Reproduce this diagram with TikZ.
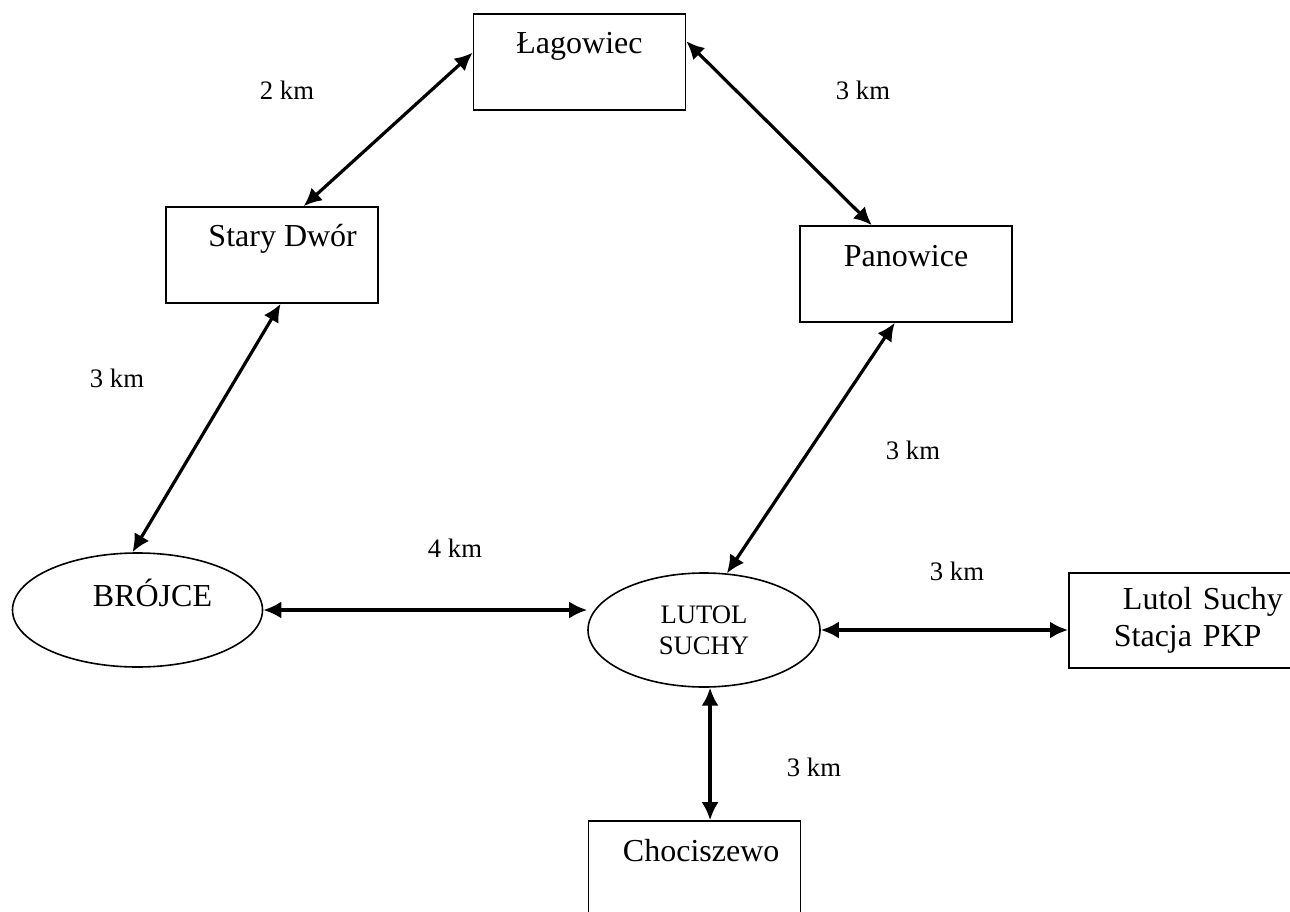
\documentclass[tikz,border=0pt]{standalone}
\usepackage{fontspec}
\setmainfont{Liberation Serif}
\usetikzlibrary{arrows.meta,shapes.geometric}

\begin{document}
\begin{tikzpicture}[x=0.375pt, y=-0.375pt,
        >={Latex[length=6.75pt,width=6.4pt]},
        place/.style={draw, rectangle, line width=0.6pt, inner sep=0pt,
            minimum width=79.5pt, text height=15pt, text depth=21pt,
            font=\fontsize{12}{13.8}\selectfont},
        town/.style={draw, ellipse, line width=0.6pt, inner sep=0pt, minimum height=42.75pt},
        link/.style={<->, line width=1.2pt},
        dist/.style={font=\fontsize{10}{12}\selectfont}]
            \useasboundingbox (0,0) rectangle (1290,912);

            \node[place] (lag) at (579.5,62) {Łagowiec};
            \node[place] (stary) at (272,255) {\hspace*{8pt}Stary Dwór};
            \node[place] (pan) at (906,274) {Panowice};
            \node[place] (choc) at (694.5,869) {\hspace*{5pt}Chociszewo};
            \node[draw, rectangle, line width=0.6pt, anchor=north west,
                minimum height=35.6pt, text width=64pt, inner xsep=16.9pt, align=left,
                font=\fontsize{12}{13.8}\selectfont] (stacja) at (1068,572)
                {\hspace*{3.4pt}Lutol Suchy\\Stacja PKP};

            \node[town, minimum width=93.75pt, text height=9pt, text depth=11.5pt,
                font=\fontsize{12}{13.8}\selectfont] (brojce) at (137.5,610) {\hspace*{11.25pt}BRÓJCE};
            \node[town, minimum width=87pt, align=center,
                font=\fontsize{10}{11.5}\selectfont] (lutol) at (704,630) {LUTOL\\SUCHY};

            \draw[link] (lag.175) -- (stary.57);
            \draw[link] (lag.11) -- (pan.125);
            \draw[link] (stary.-80) -- (brojce.95);
            \draw[link] (pan.-103) -- (lutol.68);
            \draw[link] (brojce.east) -- (brojce.east -| lutol.west);
            \draw[link] (lutol.east) -- (lutol.east -| stacja.west);
            \draw[link] (lutol.-84) -- (lutol.-84 |- choc.north);

            % odleglosci
            \node[dist] (kmLagStary) at (287,90) {2 km};
            \node[dist] (kmLagPan) at (863,90) {3 km};
            \node[dist] (kmStaryBr) at (117,378) {3 km};
            \node[dist] (kmPanLut) at (913,450) {3 km};
            \node[dist] (kmBrLut) at (455,548) {4 km};
            \node[dist] (kmLutSt) at (957,571) {3 km};
            \node[dist] (kmLutCh) at (814,767) {3 km};

        \end{tikzpicture}
\end{document}
